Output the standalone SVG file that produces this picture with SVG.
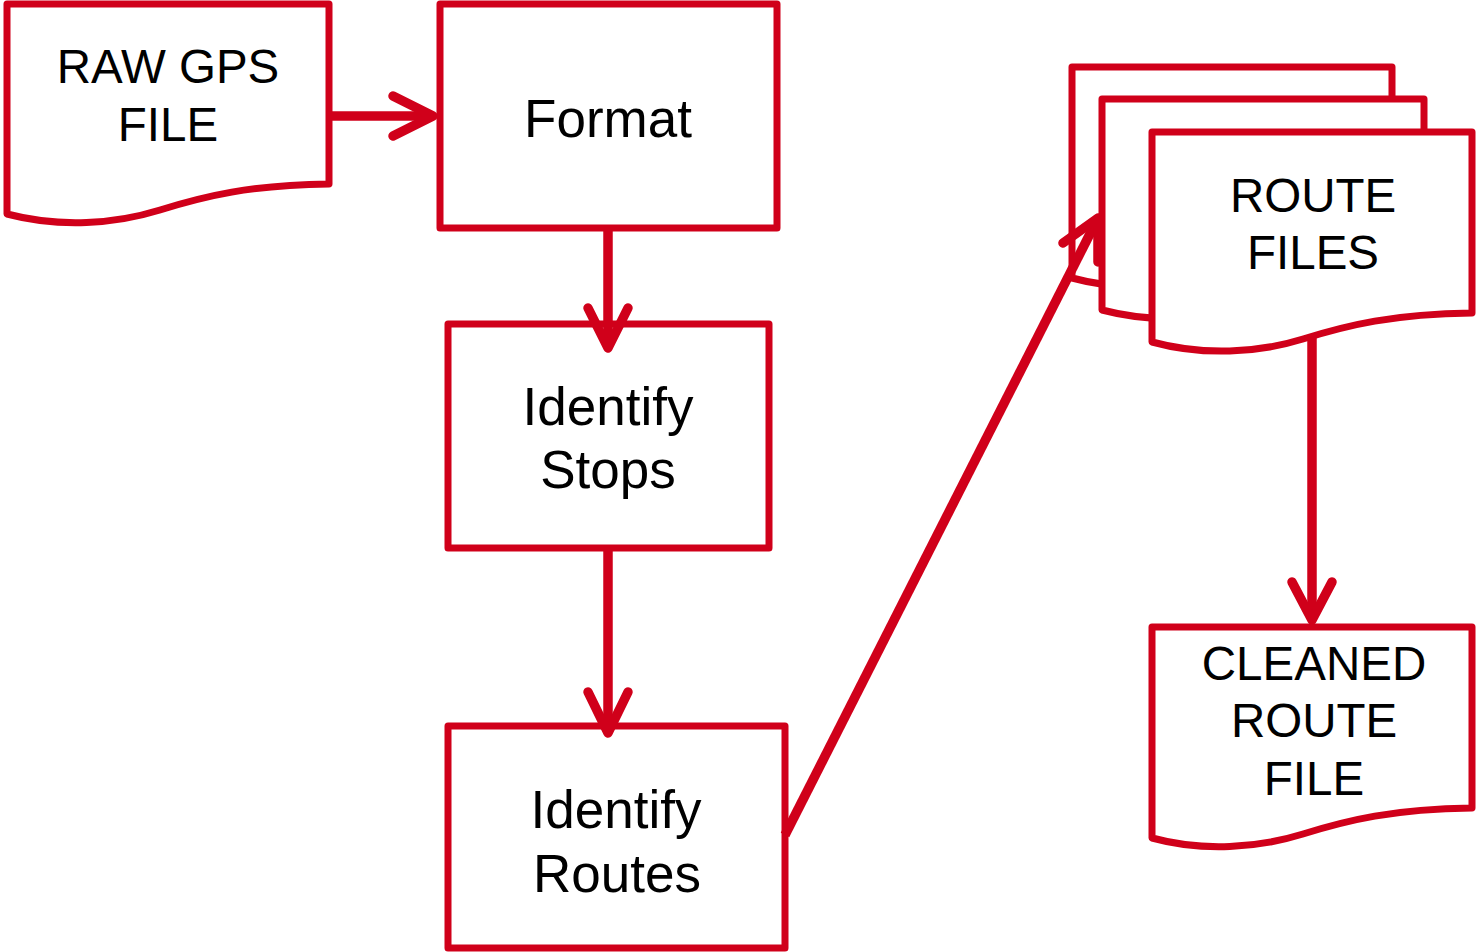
<svg xmlns="http://www.w3.org/2000/svg" width="1476" height="952" viewBox="0 0 1476 952">
<defs>
<style>
.shape{fill:#fff;stroke:#D0001A;stroke-width:7;stroke-linejoin:round}
.conn{fill:none;stroke:#D0001A;stroke-width:9.5;stroke-linecap:butt}
.head{fill:none;stroke:#D0001A;stroke-width:9.5;stroke-linecap:round;stroke-linejoin:round}
.lbl{font-family:"Liberation Sans",Arial,sans-serif;fill:#000;text-anchor:middle}
.doc{font-size:47.5px}
.proc{font-size:53px}
</style>
</defs>
<rect width="1476" height="952" fill="#fff"/>
<g id="raw-gps-file">
<path class="shape" d="M7,4 H329 V184 C250,185 205,196 160,210 C115,224 60,228 7,214 Z"/>
<text class="lbl doc" x="168" y="83">RAW GPS</text>
<text class="lbl doc" x="168" y="141">FILE</text>
</g>
<g id="format">
<rect class="shape" x="440" y="4" width="337" height="224"/>
<text class="lbl proc" x="608" y="137">Format</text>
</g>
<g id="identify-stops">
<rect class="shape" x="448" y="324" width="321" height="224"/>
<text class="lbl proc" x="608" y="425">Identify</text>
<text class="lbl proc" x="608" y="488">Stops</text>
</g>
<g id="identify-routes">
<rect class="shape" x="448" y="726" width="337" height="222"/>
<text class="lbl proc" x="616" y="828">Identify</text>
<text class="lbl proc" x="617" y="892">Routes</text>
</g>
<g id="route-files-back">
<path class="shape" d="M1072,67 H1392 V248 C1313,249 1268,260 1223,274 C1178,288 1123,292 1072,278 Z"/>
</g>
<g id="connectors">
<path class="conn" d="M332,116 H431"/>
<path class="head" d="M393,96 L433,116 L393,136"/>
<path class="conn" d="M608,231 V346"/>
<path class="head" d="M588,308 L608,348 L628,308"/>
<path class="conn" d="M608,551 V731"/>
<path class="head" d="M588,692 L608,733 L628,692"/>
<path class="conn" d="M785,835 L1097,220"/>
<path class="head" d="M1063,243 L1098,218 L1098,262"/>
<path class="conn" d="M1312,325 V618"/>
<path class="head" d="M1292,582 L1312,620 L1332,582"/>
</g>
<g id="route-files">
<path class="shape" d="M1102,99 H1424 V280 C1345,281 1300,292 1255,306 C1210,320 1155,324 1102,310 Z"/>
<path class="shape" d="M1152,132 H1472 V313 C1393,314 1348,325 1303,339 C1258,353 1203,356 1152,342 Z"/>
<text class="lbl doc" x="1313" y="212">ROUTE</text>
<text class="lbl doc" x="1313" y="269">FILES</text>
</g>
<g id="cleaned-route-file">
<path class="shape" d="M1152,627 H1472 V808 C1393,809 1348,820 1303,834 C1258,848 1203,852 1152,838 Z"/>
<text class="lbl doc" x="1314" y="680">CLEANED</text>
<text class="lbl doc" x="1314" y="737">ROUTE</text>
<text class="lbl doc" x="1314" y="795">FILE</text>
</g>
</svg>
